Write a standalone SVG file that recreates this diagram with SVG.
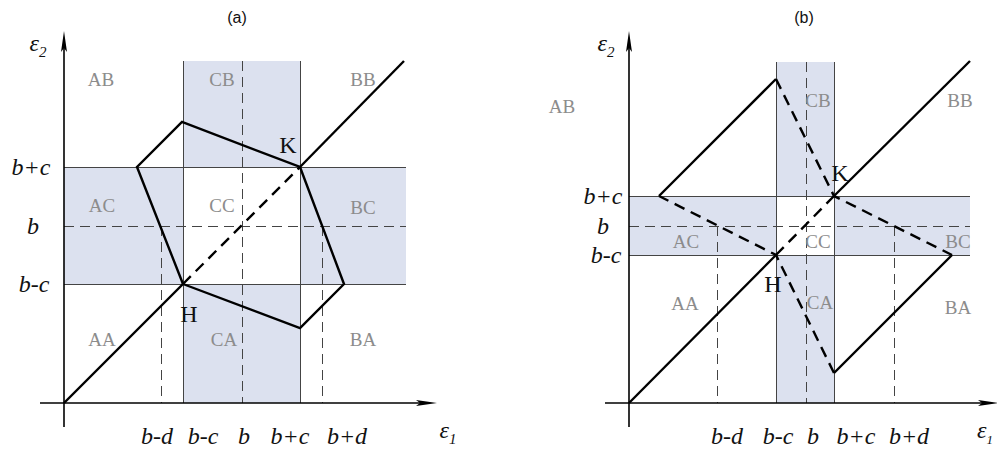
<svg xmlns="http://www.w3.org/2000/svg" width="997" height="450" viewBox="0 0 997 450">
<defs>
<style>
.band{fill:#dce1ef}
.grid{stroke:#444;stroke-width:1;fill:none}
.gdash{stroke:#444;stroke-width:1;fill:none;stroke-dasharray:10,6}
.axis{stroke:#000;stroke-width:1.6;fill:none}
.head{fill:#000}
.thick{stroke:#000;stroke-width:2.4;fill:none;stroke-linejoin:miter}
.tdash{stroke:#000;stroke-width:2.4;fill:none;stroke-dasharray:11,7}
.reg{font-family:"Liberation Serif",serif;font-size:19px;fill:#8c8c8c;text-anchor:middle}
.pt{font-family:"Liberation Serif",serif;font-size:24px;fill:#111;text-anchor:middle}
.lab{font-family:"Liberation Serif",serif;font-style:italic;font-size:24px;fill:#111;text-anchor:middle}
.ttl{font-family:"Liberation Sans",sans-serif;font-size:16px;fill:#111;text-anchor:middle}
</style>
</defs>

<!-- Panel (a) -->
<g id="panel-a">
<text class="ttl" x="237" y="23">(a)</text>
<g id="a-bands">
<rect class="band" x="183" y="61" width="117" height="342"/>
<rect class="band" x="64" y="167" width="342" height="117"/>
<rect x="183" y="167" width="117" height="117" fill="#fff"/>
</g>
<g id="a-grid">
<line class="grid" x1="64" y1="167.5" x2="406" y2="167.5"/>
<line class="grid" x1="64" y1="284.5" x2="406" y2="284.5"/>
<line class="grid" x1="183.5" y1="61" x2="183.5" y2="403"/>
<line class="grid" x1="300.5" y1="61" x2="300.5" y2="403"/>
<line class="gdash" x1="64" y1="226.5" x2="406" y2="226.5"/>
<line class="gdash" x1="242.5" y1="61" x2="242.5" y2="403"/>
<line class="gdash" x1="161.5" y1="226" x2="161.5" y2="403"/>
<line class="gdash" x1="322.5" y1="226" x2="322.5" y2="403"/>
</g>
<g id="a-axes">
<line class="axis" x1="64" y1="427" x2="64" y2="40"/>
<path class="head" d="M64,31 L67,52 L64,48 L61,52 Z"/>
<line class="axis" x1="40" y1="403" x2="428" y2="403"/>
<path class="head" d="M437,403 L416,400 L420,403 L416,406 Z"/>
</g>
<g id="a-connectors">
<line class="thick" x1="64" y1="403" x2="183" y2="284"/>
<line class="tdash" x1="183" y1="284" x2="300" y2="167"/>
<line class="thick" x1="300" y1="167" x2="404" y2="61"/>
<polyline class="thick" points="183,284 137,167 182,122 300,167 344,284 300,328 183,284"/>
</g>
<g id="a-labels">
<text class="reg" x="101" y="86">AB</text>
<text class="reg" x="222" y="86">CB</text>
<text class="reg" x="363" y="86">BB</text>
<text class="reg" x="102" y="212">AC</text>
<text class="reg" x="222" y="212">CC</text>
<text class="reg" x="363" y="214">BC</text>
<text class="reg" x="102" y="346">AA</text>
<text class="reg" x="224" y="346">CA</text>
<text class="reg" x="363" y="346">BA</text>
<text class="pt" x="288" y="153">K</text>
<text class="pt" x="189" y="322">H</text>
<text class="lab" x="31" y="175">b+c</text>
<text class="lab" x="33" y="234">b</text>
<text class="lab" x="34" y="292">b-c</text>
<text class="lab" x="157" y="444">b-d</text>
<text class="lab" x="203" y="444">b-c</text>
<text class="lab" x="244" y="444">b</text>
<text class="lab" x="290" y="444">b+c</text>
<text class="lab" x="347" y="444">b+d</text>
<text class="lab" x="38" y="51">ε<tspan font-size="15" dy="6">2</tspan></text>
<text class="lab" x="448" y="438">ε<tspan font-size="15" dy="6">1</tspan></text>
</g>
</g>

<!-- Panel (b) -->
<g id="panel-b">
<text class="ttl" x="804" y="23">(b)</text>
<g id="b-bands">
<rect class="band" x="776" y="62" width="58" height="341"/>
<rect class="band" x="629" y="196" width="341" height="59"/>
<rect x="776" y="196" width="58" height="59" fill="#fff"/>
</g>
<g id="b-grid">
<line class="grid" x1="629" y1="196.5" x2="970" y2="196.5"/>
<line class="grid" x1="629" y1="255.5" x2="970" y2="255.5"/>
<line class="grid" x1="776.5" y1="62" x2="776.5" y2="403"/>
<line class="grid" x1="834.5" y1="62" x2="834.5" y2="403"/>
<line class="gdash" x1="629" y1="226.5" x2="970" y2="226.5"/>
<line class="gdash" x1="806.5" y1="62" x2="806.5" y2="403"/>
<line class="gdash" x1="717.5" y1="226" x2="717.5" y2="403"/>
<line class="gdash" x1="894.5" y1="226" x2="894.5" y2="403"/>
</g>
<g id="b-axes">
<line class="axis" x1="629" y1="427" x2="629" y2="40"/>
<path class="head" d="M629,31 L632,52 L629,48 L626,52 Z"/>
<line class="axis" x1="605" y1="403" x2="990" y2="403"/>
<path class="head" d="M999,403 L978,400 L982,403 L978,406 Z"/>
</g>
<g id="b-connectors">
<line class="thick" x1="629" y1="403" x2="776" y2="255"/>
<line class="tdash" x1="776" y1="255" x2="834" y2="196"/>
<line class="thick" x1="834" y1="196" x2="970" y2="61"/>
<polyline class="thick" points="659,196 776,79"/>
<polyline class="tdash" points="776,79 834,196 952,255"/>
<polyline class="thick" points="952,255 834,373"/>
<polyline class="tdash" points="834,373 776,255 659,196"/>
</g>
<g id="b-labels">
<text class="reg" x="562" y="113">AB</text>
<text class="reg" x="818" y="107">CB</text>
<text class="reg" x="960" y="107">BB</text>
<text class="reg" x="686" y="248">AC</text>
<text class="reg" x="818" y="248">CC</text>
<text class="reg" x="958" y="248">BC</text>
<text class="reg" x="685" y="310">AA</text>
<text class="reg" x="820" y="309">CA</text>
<text class="reg" x="958" y="314">BA</text>
<text class="pt" x="840" y="181">K</text>
<text class="pt" x="773" y="292">H</text>
<text class="lab" x="603" y="204">b+c</text>
<text class="lab" x="603" y="234">b</text>
<text class="lab" x="606" y="263">b-c</text>
<text class="lab" x="727" y="444">b-d</text>
<text class="lab" x="778" y="444">b-c</text>
<text class="lab" x="813" y="444">b</text>
<text class="lab" x="856" y="444">b+c</text>
<text class="lab" x="909" y="444">b+d</text>
<text class="lab" x="606" y="51">ε<tspan font-size="15" dy="6">2</tspan></text>
<text class="lab" x="985" y="438">ε<tspan font-size="13" dy="6">1</tspan></text>
</g>
</g>
</svg>
